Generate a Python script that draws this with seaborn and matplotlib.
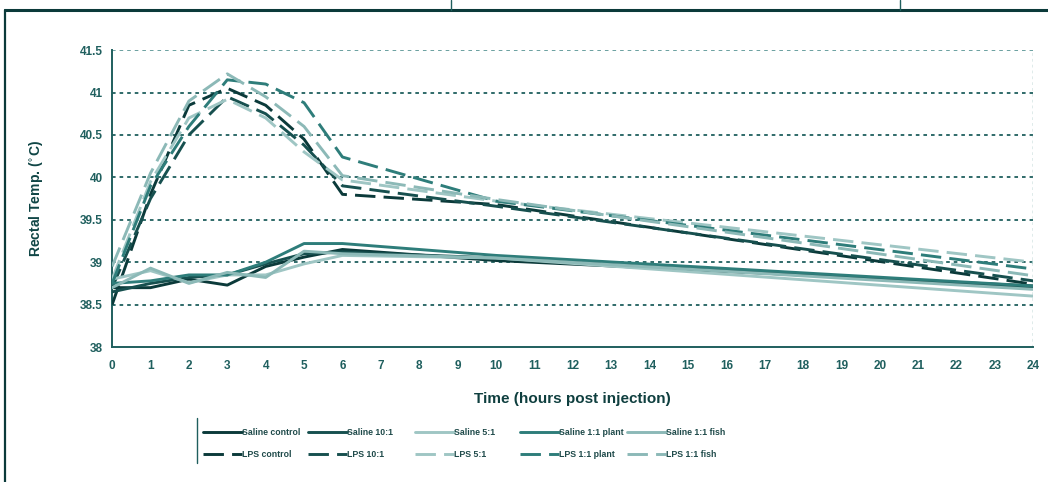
import matplotlib
matplotlib.use("Agg")
import matplotlib.pyplot as plt
from matplotlib.lines import Line2D
import pandas as pd
import seaborn as sns

HOURS = [0, 1, 2, 3, 4, 5, 6, 10, 24]

SALINE_CONTROL = [38.70, 38.70, 38.80, 38.73, 38.95, 39.06, 39.15, 39.02, 38.72]
SALINE_10_1 = [38.65, 38.75, 38.82, 38.85, 38.98, 39.10, 39.12, 39.05, 38.70]
SALINE_5_1 = [38.80, 38.90, 38.76, 38.85, 38.85, 38.98, 39.08, 39.05, 38.60]
SALINE_PLANT = [38.75, 38.78, 38.85, 38.85, 39.00, 39.22, 39.22, 39.08, 38.72]
SALINE_FISH = [38.70, 38.93, 38.75, 38.88, 38.82, 39.13, 39.10, 39.05, 38.68]

LPS_CONTROL = [38.50, 39.80, 40.85, 41.05, 40.85, 40.45, 39.80, 39.68, 38.74]
LPS_10_1 = [38.70, 39.75, 40.50, 40.95, 40.75, 40.38, 39.90, 39.66, 38.78]
LPS_5_1 = [38.80, 39.95, 40.70, 40.92, 40.70, 40.30, 39.97, 39.72, 39.00]
LPS_PLANT = [38.75, 39.90, 40.60, 41.15, 41.10, 40.88, 40.24, 39.72, 38.92]
LPS_FISH = [38.95, 40.05, 40.90, 41.22, 40.95, 40.60, 40.02, 39.74, 38.84]

GROUPS = ["control", "10:1", "5:1", "1:1 plant", "1:1 fish"]
SALINE = [SALINE_CONTROL, SALINE_10_1, SALINE_5_1, SALINE_PLANT, SALINE_FISH]
LPS = [LPS_CONTROL, LPS_10_1, LPS_5_1, LPS_PLANT, LPS_FISH]
COLORS = ["#0b3a3a", "#17504f", "#9fc6c4", "#2e7d7a", "#8cb9b7"]

TEAL = "#1f5f5e"
DASHES = (7.0, 2.8)
LW = 2.1

sns.set_theme(style="white")
plt.rcParams["font.family"] = ["Liberation Sans Narrow", "Liberation Sans", "DejaVu Sans"]

fig = plt.figure(figsize=(10.48, 4.82), dpi=100)
ax = fig.add_axes([0.107, 0.28, 0.879, 0.616])

legend_cols = []
for group, sal, lps, color in zip(GROUPS, SALINE, LPS, COLORS):
    col = []
    for label, vals, dashed in [(f"Saline {group}", sal, False), (f"LPS {group}", lps, True)]:
        df = pd.DataFrame({"hour": HOURS, "temp": vals})
        sns.lineplot(data=df, x="hour", y="temp", ax=ax, color=color,
                     linewidth=LW, legend=False, zorder=3)
        h = Line2D([], [], color=color, linewidth=LW)
        if dashed:
            ax.lines[-1].set_dashes(DASHES)
            h.set_dashes(DASHES)
        col.append((h, label))
    legend_cols.append(col)

ax.set_xlim(0, 24)
ax.set_ylim(38, 41.5)
ax.set_xticks(range(0, 25))
ax.set_yticks([38, 38.5, 39, 39.5, 40, 40.5, 41, 41.5])
ax.set_yticklabels(["38", "38.5", "39", "39.5", "40", "40.5", "41", "41.5"])

for v in [38.5, 39, 39.5, 40, 40.5, 41, 41.5]:
    ax.axhline(v, color=TEAL if v < 41.5 else "#5f9998", linestyle=(0, (2, 2.2)),
               linewidth=1.3, zorder=1)
ax.axvline(24, color="#5f9998", linestyle=(0, (2, 2.2)), linewidth=1.0, zorder=1)

for side in ["top", "right"]:
    ax.spines[side].set_visible(False)
for side in ["left", "bottom"]:
    ax.spines[side].set_color(TEAL)
    ax.spines[side].set_linewidth(1.4)

ax.tick_params(axis="y", direction="inout", length=7, width=1.2, color=TEAL,
               labelsize=8.5, labelcolor=TEAL, pad=3)
ax.tick_params(axis="x", direction="out", length=5, width=1.2, color=TEAL,
               labelsize=8.5, labelcolor=TEAL, pad=4)
for lab in ax.get_xticklabels() + ax.get_yticklabels():
    lab.set_fontweight("bold")

ax.set_xlabel("Time (hours post injection)", fontsize=11, fontweight="bold",
              color="#0f3f3f", labelpad=15, family=["Liberation Sans", "DejaVu Sans"])
ax.set_ylabel("Rectal Temp. ($^{\\circ}$C)", fontsize=10, fontweight="bold",
              color="#0f4545", labelpad=25, family=["Liberation Sans", "DejaVu Sans"])

# legend: one small block per treatment column
col_x = [203, 308, 415, 520, 627]
for x, col in zip(col_x, legend_cols):
    leg = fig.legend([c[0] for c in col], [c[1] for c in col], frameon=False,
                     loc="upper left", bbox_to_anchor=(x / 1048, 1 - 428 / 482),
                     borderpad=0, borderaxespad=0, fontsize=6.3,
                     handlelength=4.4, handletextpad=0.1, labelspacing=1.45)
    for t in leg.get_texts():
        t.set_color("#1f4a4a")
        t.set_fontweight("bold")

# figure frame
fig.add_artist(Line2D([0.005, 1.0], [0.979, 0.979], color="#0b3a3a", linewidth=2.2,
                      transform=fig.transFigure))
fig.add_artist(Line2D([0.005, 0.005], [0.0, 0.979], color="#0b3a3a", linewidth=1.6,
                      transform=fig.transFigure))
fig.add_artist(Line2D([0.43, 0.43], [0.979, 1.0], color=TEAL, linewidth=1.0,
                      transform=fig.transFigure))
fig.add_artist(Line2D([0.859, 0.859], [0.979, 1.0], color=TEAL, linewidth=1.0,
                      transform=fig.transFigure))
fig.add_artist(Line2D([0.188, 0.188], [0.04, 0.133], color=TEAL, linewidth=1.0,
                      transform=fig.transFigure))

fig.savefig("out.png", dpi=100)
